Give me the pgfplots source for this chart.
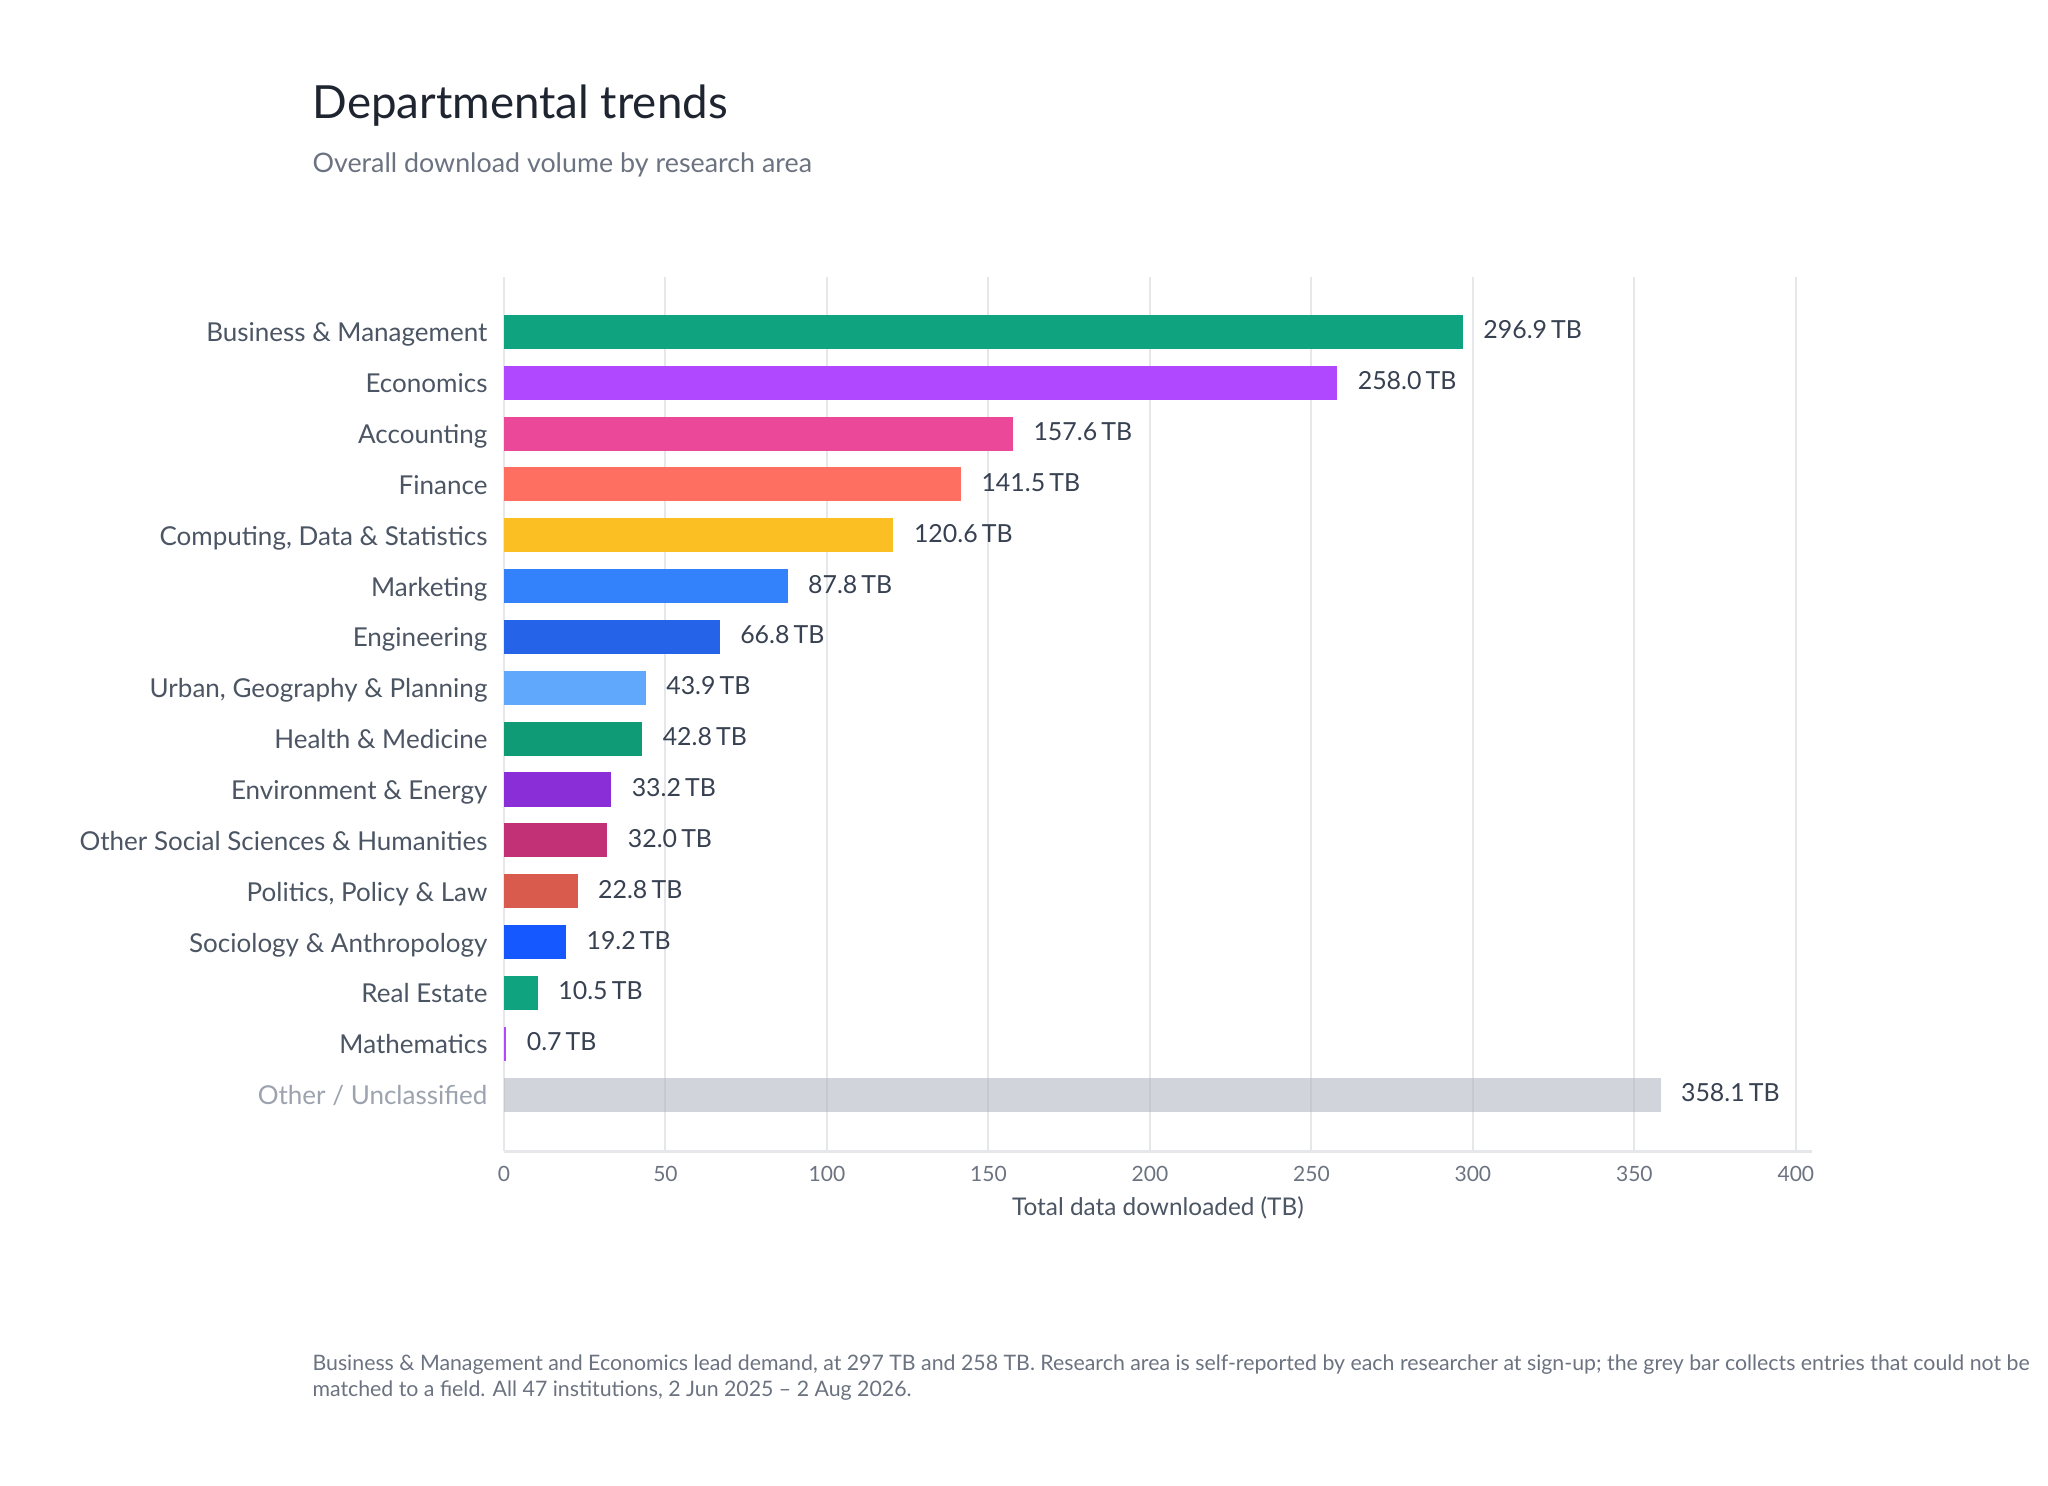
\documentclass[border=0pt]{standalone}
\usepackage{fontspec}
\setmainfont{Lato}
\usepackage{pgfplots}
\pgfplotsset{compat=1.18}
\newlength\px \setlength\px{0.36bp}
\definecolor{titlec}{HTML}{1F2530}
\definecolor{subc}{HTML}{6B7280}
\definecolor{catc}{HTML}{4B5563}
\definecolor{valc}{HTML}{374151}
\definecolor{tickc}{HTML}{6B7280}
\definecolor{othc}{HTML}{9CA3AF}
\definecolor{gridc}{HTML}{E5E7EB}
\definecolor{c1}{HTML}{10A37F}
\definecolor{c2}{HTML}{B048FF}
\definecolor{c3}{HTML}{EC4899}
\definecolor{c4}{HTML}{FF6F61}
\definecolor{c5}{HTML}{FBBF24}
\definecolor{c6}{HTML}{3382FC}
\definecolor{c7}{HTML}{2563E8}
\definecolor{c8}{HTML}{60A8FC}
\definecolor{c9}{HTML}{0F9B76}
\definecolor{c10}{HTML}{8A2ED8}
\definecolor{c11}{HTML}{C23176}
\definecolor{c12}{HTML}{D95B4E}
\definecolor{c13}{HTML}{1558FF}
\definecolor{c14}{HTML}{10A37F}
\definecolor{c15}{HTML}{B048FF}
\definecolor{c16}{HTML}{ABB3BE}
\begin{document}
\begin{tikzpicture}[x=\px,y=\px]
\path[use as bounding box] (0,-1486) rectangle (2048,0);
\node[anchor=base west, inner sep=0pt, font=\fontsize{16.5}{20}\selectfont, text=titlec] at (312,-118) {Departmental trends};
\node[anchor=base west, inner sep=0pt, font=\fontsize{9.7}{12}\selectfont, text=subc] at (312,-172) {Overall download volume by research area};
\begin{axis}[
  at={(504\px,-1151\px)}, anchor=south west,
  scale only axis, width=1308\px, height=874\px,
  xmin=0, xmax=405, ymin=-1.11, ymax=16.08,
  xbar, bar width=0.67, 
  /pgf/number format/assume math mode=true,
  axis x line*=bottom, axis y line*=left,
  x axis line style={draw=gridc, line width=3\px},
  y axis line style={draw=none},
  xmajorgrids, grid style={draw=gridc, line width=2\px},
  major tick length=0pt,
  xtick={0,50,...,400},
  ytick={0,...,15},
  yticklabels={{\color{othc}Other / Unclassified},Mathematics,Real Estate,Sociology \& Anthropology,{Politics, Policy \& Law},Other Social Sciences \& Humanities,Environment \& Energy,Health \& Medicine,{Urban, Geography \& Planning},Engineering,Marketing,{Computing, Data \& Statistics},Finance,Accounting,Economics,Business \& Management},
  yticklabel style={anchor=base east, inner sep=0pt, font=\fontsize{9.4}{12}\selectfont, text=catc, xshift=-16\px, yshift=-0.36em},
  xticklabel style={anchor=north, inner sep=0pt, font=\fontsize{7.6}{9}\selectfont, text=tickc, yshift=-15\px},
  xlabel={Total data downloaded (TB)},
  xlabel style={at={(axis description cs:0.5,0)}, anchor=base, inner sep=0pt, yshift=-64\px, font=\fontsize{8.8}{10}\selectfont, text=catc},
  nodes near coords={\pgfmathprintnumber[fixed,fixed zerofill,precision=1]{\pgfplotspointmeta}\,TB},
  nodes near coords style={anchor=base west, inner sep=0pt, xshift=20\px, yshift=-0.36em+3\px, font=\fontsize{9}{11}\selectfont, text=valc, fill opacity=1, text opacity=1, opacity=1},
  every axis plot/.append style={bar shift=0pt, draw=none},
]
\addplot[fill=c16, fill opacity=0.55] coordinates {(358.1,0)};
\addplot[fill=c15] coordinates {(0.7,1)};
\addplot[fill=c14] coordinates {(10.5,2)};
\addplot[fill=c13] coordinates {(19.2,3)};
\addplot[fill=c12] coordinates {(22.8,4)};
\addplot[fill=c11] coordinates {(32.0,5)};
\addplot[fill=c10] coordinates {(33.2,6)};
\addplot[fill=c9] coordinates {(42.8,7)};
\addplot[fill=c8] coordinates {(43.9,8)};
\addplot[fill=c7] coordinates {(66.8,9)};
\addplot[fill=c6] coordinates {(87.8,10)};
\addplot[fill=c5] coordinates {(120.6,11)};
\addplot[fill=c4] coordinates {(141.5,12)};
\addplot[fill=c3] coordinates {(157.6,13)};
\addplot[fill=c2] coordinates {(258.0,14)};
\addplot[fill=c1] coordinates {(296.9,15)};
\end{axis}
\node[anchor=base west, inner sep=0pt, font=\fontsize{7.7}{9}\selectfont, text=subc, align=left] at (312,-1370) {Business \& Management and Economics lead demand, at 297 TB and 258 TB. Research area is self-reported by each researcher at sign-up; the grey bar collects entries that could not be};
\node[anchor=base west, inner sep=0pt, font=\fontsize{7.7}{9}\selectfont, text=subc, align=left] at (312,-1396) {matched to a field. All 47 institutions, 2 Jun 2025 – 2 Aug 2026.};
\end{tikzpicture}
\end{document}
